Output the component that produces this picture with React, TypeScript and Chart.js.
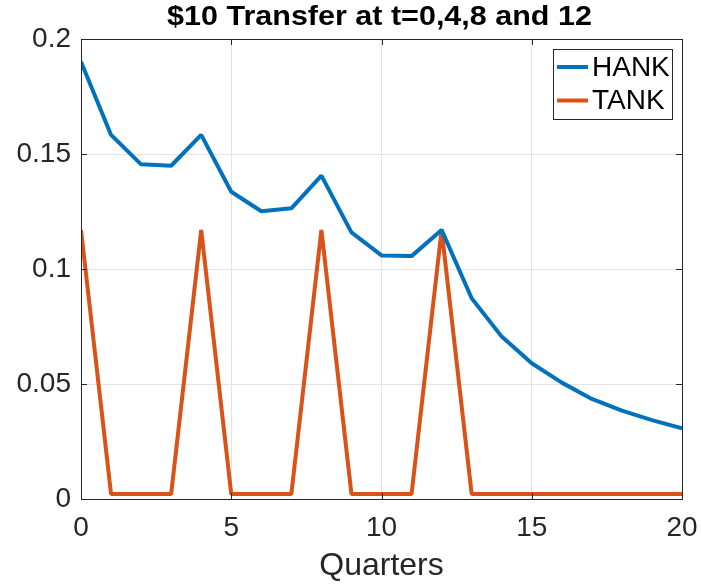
import { useEffect, useRef } from "react";
import { Chart, registerables } from "chart.js";

Chart.register(...registerables);

const FONT = '"Liberation Sans", Arial, Helvetica, sans-serif';
const TITLE = "$10 Transfer at t=0,4,8 and 12";
const X_LABEL = "Quarters";

const quarters = [0, 1, 2, 3, 4, 5, 6, 7, 8, 9, 10, 11, 12, 13, 14, 15, 16, 17, 18, 19, 20];
const hank = [
  0.1901, 0.1583, 0.1455, 0.1449, 0.1583, 0.1336, 0.1251, 0.1264, 0.1406, 0.1159, 0.1059,
  0.1056, 0.117, 0.0873, 0.0706, 0.059, 0.0506, 0.0435, 0.0384, 0.0343, 0.0307,
];
const tank = [
  0.117, 0.0022, 0.0022, 0.0022, 0.117, 0.0022, 0.0022, 0.0022, 0.117, 0.0022, 0.0022,
  0.0022, 0.117, 0.0022, 0.0022, 0.0022, 0.0022, 0.0022, 0.0022, 0.0022, 0.0022,
];
const seriesNames = ["HANK", "TANK"];
const seriesColors = ["#0072BD", "#D95319"];
const xTicks = [0, 5, 10, 15, 20];
const yTicks = [0, 0.05, 0.1, 0.15, 0.2];

const fmt = (v: number) => String(Number(Number(v).toFixed(4)));

const framePlugin = {
  id: "frame",
  afterDatasetsDraw(chart: any) {
    const { ctx, chartArea, scales } = chart;
    const { left, right, top, bottom } = chartArea;
    const tl = 6;
    ctx.save();
    ctx.strokeStyle = "#262626";
    ctx.lineWidth = 1;
    ctx.beginPath();
    for (const v of xTicks) {
      const px = Math.round(scales.x.getPixelForValue(v)) + 0.5;
      ctx.moveTo(px, bottom);
      ctx.lineTo(px, bottom - tl);
      ctx.moveTo(px, top);
      ctx.lineTo(px, top + tl);
    }
    for (const v of yTicks) {
      const py = Math.round(scales.y.getPixelForValue(v)) + 0.5;
      ctx.moveTo(left, py);
      ctx.lineTo(left + tl, py);
      ctx.moveTo(right, py);
      ctx.lineTo(right - tl, py);
    }
    ctx.stroke();
    ctx.strokeRect(Math.round(left) + 0.5, Math.round(top) + 0.5, Math.round(right - left), Math.round(bottom - top));
    ctx.restore();
  },
};

const legendPlugin = {
  id: "insideLegend",
  afterDraw(chart: any) {
    const { ctx, chartArea } = chart;
    const w = 119;
    const h = 70;
    const bx = chartArea.right - 10 - w;
    const by = chartArea.top + 10;
    ctx.save();
    ctx.fillStyle = "#ffffff";
    ctx.fillRect(bx, by, w, h);
    ctx.strokeStyle = "#262626";
    ctx.lineWidth = 1;
    ctx.strokeRect(Math.round(bx) + 0.5, Math.round(by) + 0.5, w, h);
    ctx.font = `28px ${FONT}`;
    ctx.textBaseline = "middle";
    ctx.textAlign = "left";
    chart.data.datasets.forEach((ds: any, i: number) => {
      const cy = by + 18 + i * 33.5;
      ctx.strokeStyle = ds.borderColor;
      ctx.lineWidth = 4;
      ctx.beginPath();
      ctx.moveTo(bx + 4, cy);
      ctx.lineTo(bx + 35, cy);
      ctx.stroke();
      ctx.fillStyle = "#000000";
      ctx.fillText(ds.label, bx + 39, cy + 1);
    });
    ctx.restore();
  },
};

const titlePlugin = {
  id: "stretchedTitle",
  afterDraw(chart: any) {
    const { ctx, chartArea } = chart;
    const cx = (chartArea.left + chartArea.right) / 2 - 2;
    ctx.save();
    ctx.font = `bold 27px ${FONT}`;
    ctx.fillStyle = "#000000";
    ctx.textAlign = "center";
    ctx.textBaseline = "middle";
    ctx.translate(cx, 17.5);
    ctx.scale(1.13, 1);
    ctx.fillText(TITLE, 0, 0);
    ctx.restore();
  },
};

export default function App() {
  const ref = useRef<HTMLCanvasElement | null>(null);

  useEffect(() => {
    if (!ref.current) return;
    const chart = new Chart(ref.current, {
      type: "line",
      data: {
        datasets: [hank, tank].map((vals, i) => ({
          label: seriesNames[i],
          data: quarters.map((q, j) => ({ x: q, y: vals[j] })),
          borderColor: seriesColors[i],
          backgroundColor: seriesColors[i],
          borderWidth: 4,
          borderJoinStyle: "bevel" as const,
          pointRadius: 0,
          tension: 0,
          fill: false,
        })),
      },
      options: {
        responsive: false,
        animation: false,
        layout: { padding: { top: 39, right: 19, left: 0, bottom: 0 } },
        plugins: {
          legend: { display: false },
          title: { display: false },
          tooltip: { enabled: false },
        },
        scales: {
          x: {
            type: "linear",
            min: 0,
            max: 20,
            afterBuildTicks: (s: any) => {
              s.ticks = xTicks.map((v) => ({ value: v }));
            },
            afterFit: (s: any) => {
              s.height = 86;
              s.paddingLeft = 0;
              s.paddingRight = 0;
            },
            grid: { color: "#e3e3e3", lineWidth: 1, drawTicks: false },
            border: { display: false },
            ticks: {
              padding: 12,
              color: "#262626",
              font: { family: FONT, size: 28 },
              maxRotation: 0,
              callback: (v: any) => fmt(v),
            },
            title: {
              display: true,
              text: X_LABEL,
              color: "#262626",
              font: { family: FONT, size: 32 },
              padding: { top: 0, bottom: 0 },
            },
          },
          y: {
            type: "linear",
            min: 0,
            max: 0.2,
            afterBuildTicks: (s: any) => {
              s.ticks = yTicks.map((v) => ({ value: v }));
            },
            afterFit: (s: any) => {
              s.width = 81;
              s.paddingTop = 0;
              s.paddingBottom = 0;
            },
            grid: { color: "#e3e3e3", lineWidth: 1, drawTicks: false },
            border: { display: false },
            ticks: {
              padding: 10,
              color: "#262626",
              font: { family: FONT, size: 28 },
              callback: (v: any) => fmt(v),
            },
          },
        },
      },
      plugins: [framePlugin, legendPlugin, titlePlugin],
    });
    return () => chart.destroy();
  }, []);

  return (
    <div style={{ position: "absolute", left: 0, top: 0, width: 701, height: 585, background: "#fff" }}>
      <canvas ref={ref} width={701} height={585} />
    </div>
  );
}
